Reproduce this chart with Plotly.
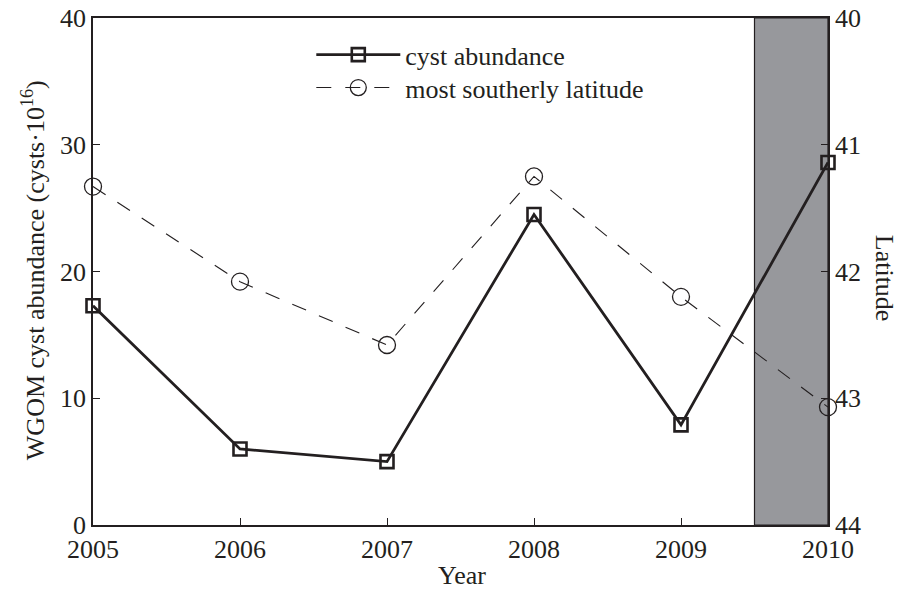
import plotly.graph_objects as go

years = [2005, 2006, 2007, 2008, 2009, 2010]
cyst_abundance = [17.3, 6.0, 5.0, 24.5, 7.9, 28.6]
southerly_latitude = [41.33, 42.08, 42.58, 41.25, 42.2, 43.07]
shade_start, shade_end = 2009.5, 2010

ink = "#231f20"
font = dict(family="Liberation Serif, Times New Roman, serif", size=26, color=ink)

fig = go.Figure()

# shaded year (drawn under the data)
fig.add_shape(type="rect", xref="x", yref="paper", x0=shade_start, x1=shade_end,
              y0=0, y1=1, fillcolor="#97989c", line=dict(color=ink, width=1.2),
              layer="below")

fig.add_trace(go.Scatter(
    x=years, y=cyst_abundance, name="cyst abundance", mode="lines+markers",
    line=dict(color=ink, width=2.8),
    marker=dict(symbol="square-open", size=13, color=ink, line=dict(width=2.6)),
    cliponaxis=False, legend="legend",
))
fig.add_trace(go.Scatter(
    x=years, y=southerly_latitude, name="most southerly latitude", yaxis="y2",
    mode="lines+markers",
    line=dict(color=ink, width=1.1, dash="15px,14px"),
    marker=dict(symbol="circle-open", size=17, color=ink, line=dict(width=1.3)),
    cliponaxis=False, legend="legend2",
))

# axis titles placed by hand (right one reads top-to-bottom)
fig.add_annotation(text="WGOM cyst abundance (cysts\u00b710<sup>16</sup>)",
                   xref="paper", yref="paper", x=-0.080, y=0.503, textangle=-90,
                   showarrow=False, xanchor="center", yanchor="middle")
fig.add_annotation(text="Latitude", xref="paper", yref="paper", x=1.078, y=0.487,
                   textangle=90, showarrow=False, xanchor="center", yanchor="middle")
fig.add_annotation(text="Year", xref="paper", yref="paper", x=0.502, y=-0.100,
                   showarrow=False, xanchor="center", yanchor="middle")

legend_style = dict(x=0.297, xanchor="left", yanchor="top",
                    bgcolor="rgba(0,0,0,0)", itemwidth=84, font=dict(size=26))

fig.update_layout(
    width=899, height=590,
    margin=dict(l=93, r=71, t=18, b=65),
    paper_bgcolor="white", plot_bgcolor="white",
    font=font,
    showlegend=True,
    legend=dict(y=0.974, **legend_style),
    legend2=dict(y=0.909, **legend_style),
    xaxis=dict(range=[2005, 2010], tickvals=years, showgrid=False, zeroline=False,
               showline=True, linecolor=ink, linewidth=1.5, mirror=True,
               ticks="inside", ticklen=7, tickcolor=ink, automargin=False,
               ticklabeloverflow="allow"),
    yaxis=dict(range=[0, 40], tickvals=[0, 10, 20, 30, 40], showgrid=False,
               zeroline=False, showline=True, linecolor=ink, linewidth=1.5,
               ticks="inside", ticklen=7, tickcolor=ink, automargin=False,
               ticklabeloverflow="allow"),
    yaxis2=dict(range=[44, 40], tickvals=[40, 41, 42, 43, 44], overlaying="y",
                side="right", showgrid=False, zeroline=False, showline=True,
                linecolor=ink, linewidth=1.5, ticks="inside", ticklen=7,
                tickcolor=ink, automargin=False, ticklabeloverflow="allow"),
)

# drop the browser's default 8px body margin so the figure fills the window
fig.write_html("out.html", config={"displayModeBar": False},
               post_script="document.body.style.margin='0';")
